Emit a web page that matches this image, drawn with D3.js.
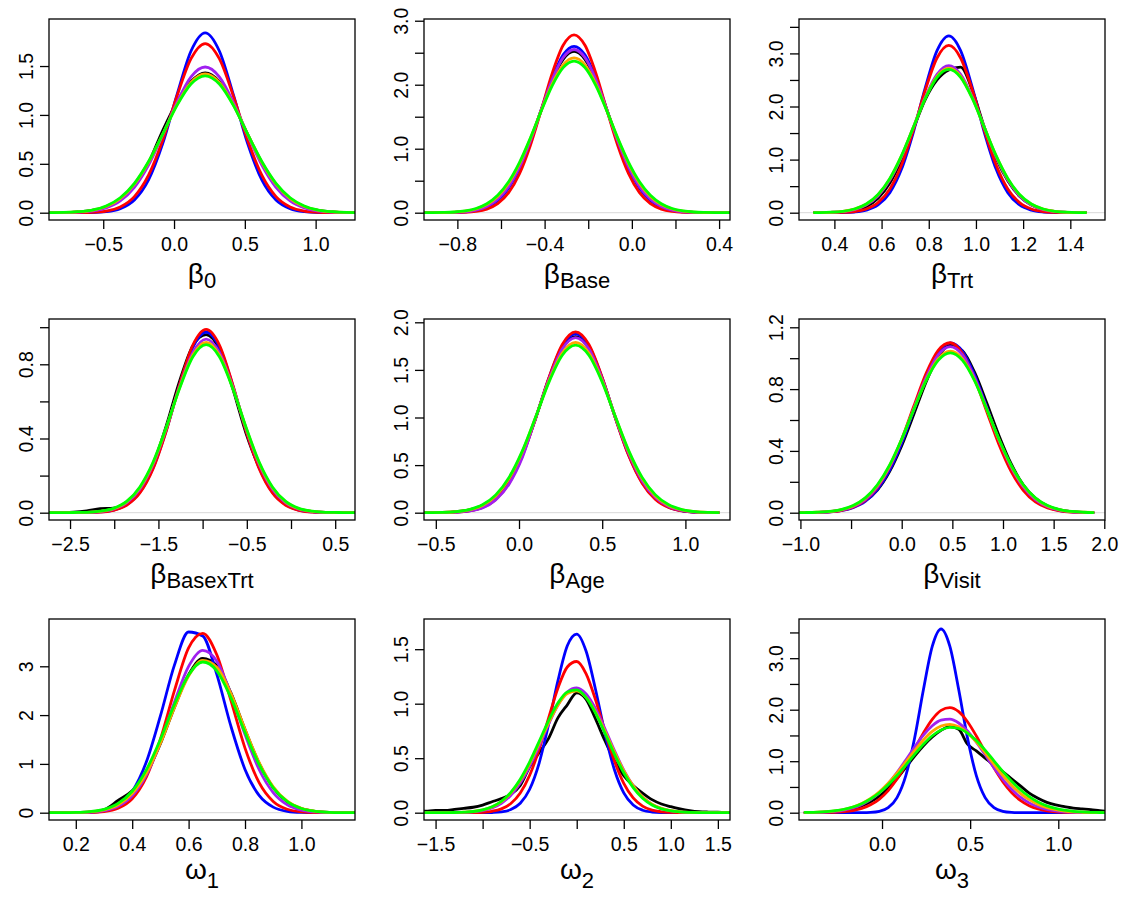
<!DOCTYPE html>
<html>
<head>
<meta charset="utf-8">
<script src="https://cdn.jsdelivr.net/npm/d3@7"></script>
<style>
  html, body { margin: 0; padding: 0; background: #ffffff; }
  svg { display: block; }
  text { font-family: "Liberation Sans", Arial, Helvetica, sans-serif; fill: #000; }
</style>
</head>
<body>
<div id="chart"></div>
<script>
// ---------------- DATA ----------------
const seriesNames = ["black", "blue", "red", "purple", "orange", "green"];
const seriesColors = ["#000000", "#0000FF", "#FF0000", "#A020F0", "#FFA500", "#00FF00"];

const panelSymbols = ["β", "β", "β", "β", "β", "β", "ω", "ω", "ω"];
const panelSubscripts = ["0", "Base", "Trt", "BasexTrt", "Age", "Visit", "1", "2", "3"];

// Panel 1: beta_0
const b0_x      = [-0.88,-0.78,-0.68,-0.58,-0.48,-0.38,-0.28,-0.18,-0.08,0.02,0.12,0.22,0.32,0.42,0.52,0.62,0.72,0.82,0.92,1.02,1.12,1.22,1.32];
const b0_black  = [0.001,0.002,0.008,0.023,0.061,0.142,0.287,0.512,0.84,1.13,1.341,1.43,1.341,1.106,0.802,0.512,0.287,0.142,0.061,0.023,0.008,0.002,0.001];
const b0_blue   = [0,0,0,0.002,0.010,0.040,0.129,0.335,0.706,1.202,1.654,1.84,1.654,1.202,0.706,0.335,0.129,0.040,0.010,0.002,0,0,0];
const b0_red    = [0,0,0.001,0.004,0.017,0.059,0.165,0.384,0.742,1.188,1.575,1.73,1.575,1.188,0.742,0.384,0.165,0.059,0.017,0.004,0.001,0,0];
const b0_purple = [0,0.001,0.005,0.017,0.049,0.121,0.260,0.488,0.795,1.127,1.390,1.49,1.390,1.127,0.795,0.488,0.260,0.121,0.049,0.017,0.005,0.001,0];
const b0_orange = [0.001,0.003,0.008,0.025,0.064,0.145,0.292,0.516,0.803,1.102,1.333,1.42,1.333,1.102,0.803,0.516,0.292,0.145,0.064,0.025,0.008,0.003,0.001];
const b0_green  = [0.001,0.003,0.010,0.027,0.069,0.153,0.300,0.523,0.804,1.095,1.316,1.40,1.316,1.095,0.804,0.523,0.300,0.153,0.069,0.027,0.010,0.003,0.001];

// Panel 2: beta_Base
const bBase_x      = [-0.965,-0.915,-0.865,-0.815,-0.765,-0.715,-0.665,-0.615,-0.565,-0.515,-0.465,-0.415,-0.365,-0.315,-0.265,-0.215,-0.165,-0.115,-0.065,-0.015,0.035,0.085,0.135,0.185,0.235,0.285,0.335,0.385,0.435,0.485];
const bBase_black  = [0,0.001,0.002,0.006,0.017,0.044,0.103,0.219,0.418,0.724,1.134,1.608,2.064,2.397,2.52,2.397,2.064,1.608,1.134,0.724,0.418,0.219,0.103,0.044,0.017,0.006,0.002,0.001,0,0];
const bBase_blue   = [0,0,0.001,0.004,0.013,0.035,0.087,0.193,0.384,0.689,1.111,1.612,2.102,2.466,2.60,2.466,2.102,1.612,1.111,0.689,0.384,0.193,0.087,0.035,0.013,0.004,0.001,0,0,0];
const bBase_red    = [0,0,0,0.002,0.006,0.020,0.057,0.142,0.313,0.609,1.053,1.610,2.181,2.616,2.78,2.616,2.181,1.610,1.053,0.609,0.313,0.142,0.057,0.020,0.006,0.002,0,0,0,0];
const bBase_purple = [0,0.001,0.002,0.005,0.015,0.041,0.097,0.209,0.405,0.711,1.126,1.610,2.079,2.423,2.55,2.423,2.079,1.610,1.126,0.711,0.405,0.209,0.097,0.041,0.015,0.005,0.002,0.001,0,0];
const bBase_orange = [0,0.001,0.003,0.009,0.024,0.058,0.127,0.254,0.461,0.766,1.159,1.599,2.013,2.311,2.42,2.311,2.013,1.599,1.159,0.766,0.461,0.254,0.127,0.058,0.024,0.009,0.003,0.001,0,0];
const bBase_green  = [0,0.001,0.004,0.011,0.029,0.066,0.141,0.273,0.484,0.787,1.170,1.593,1.987,2.268,2.37,2.268,1.987,1.593,1.170,0.787,0.484,0.273,0.141,0.066,0.029,0.011,0.004,0.001,0,0];

// Panel 3: beta_Trt
const bTrt_x      = [0.315,0.335,0.385,0.435,0.485,0.535,0.585,0.635,0.685,0.735,0.785,0.835,0.885,0.935,0.985,1.035,1.085,1.135,1.185,1.235,1.285,1.335,1.385,1.435,1.465];
const bTrt_black  = [0.001,0.001,0.004,0.012,0.040,0.110,0.27,0.56,1.00,1.58,2.13,2.50,2.69,2.74,2.30,1.62,1.03,0.60,0.31,0.145,0.06,0.022,0.007,0.002,0.001];
const bTrt_blue   = [0,0,0.001,0.003,0.013,0.047,0.145,0.377,0.826,1.520,2.350,3.052,3.33,3.052,2.350,1.520,0.826,0.377,0.145,0.047,0.013,0.003,0.001,0,0];
const bTrt_red    = [0,0,0.001,0.006,0.021,0.069,0.190,0.448,0.904,1.561,2.306,2.914,3.15,2.914,2.306,1.561,0.904,0.448,0.190,0.069,0.021,0.006,0.001,0,0];
const bTrt_purple = [0.001,0.002,0.007,0.021,0.058,0.144,0.316,0.613,1.056,1.610,2.176,2.608,2.77,2.608,2.176,1.610,1.056,0.613,0.316,0.144,0.058,0.021,0.007,0.002,0.001];
const bTrt_orange = [0.001,0.002,0.008,0.025,0.066,0.158,0.336,0.637,1.074,1.613,2.156,2.567,2.72,2.567,2.156,1.613,1.074,0.637,0.336,0.158,0.066,0.025,0.008,0.002,0.001];
const bTrt_green  = [0.002,0.003,0.009,0.026,0.069,0.163,0.343,0.645,1.079,1.612,2.147,2.550,2.70,2.550,2.147,1.612,1.079,0.645,0.343,0.163,0.069,0.026,0.009,0.003,0.002];

// Panel 4: beta_BasexTrt
const bBxT_x      = [-2.76,-2.61,-2.46,-2.31,-2.16,-2.01,-1.86,-1.71,-1.56,-1.41,-1.26,-1.11,-0.96,-0.81,-0.66,-0.51,-0.36,-0.21,-0.06,0.09,0.24,0.39,0.54,0.69,0.84];
const bBxT_black  = [0,0.001,0.003,0.010,0.022,0.025,0.05,0.12,0.26,0.47,0.71,0.90,0.96,0.88,0.67,0.43,0.245,0.117,0.046,0.016,0.006,0.002,0.001,0,0];
const bBxT_blue   = [0,0,0,0.001,0.004,0.014,0.043,0.111,0.243,0.446,0.688,0.893,0.974,0.893,0.688,0.446,0.243,0.111,0.043,0.014,0.004,0.001,0,0,0];
const bBxT_red    = [0,0,0,0.001,0.003,0.013,0.040,0.106,0.237,0.443,0.692,0.904,0.988,0.904,0.692,0.443,0.237,0.106,0.040,0.013,0.003,0.001,0,0,0];
const bBxT_purple = [0,0,0,0.001,0.006,0.019,0.053,0.127,0.260,0.456,0.680,0.864,0.936,0.864,0.680,0.456,0.260,0.127,0.053,0.019,0.006,0.001,0,0,0];
const bBxT_orange = [0,0,0.001,0.002,0.007,0.021,0.058,0.134,0.268,0.459,0.675,0.850,0.918,0.850,0.675,0.459,0.268,0.134,0.058,0.021,0.007,0.002,0.001,0,0];
const bBxT_green  = [0,0,0.001,0.002,0.008,0.023,0.061,0.139,0.273,0.462,0.671,0.841,0.906,0.841,0.671,0.462,0.273,0.139,0.061,0.023,0.008,0.002,0.001,0,0];

// Panel 5: beta_Age
const bAge_x      = [-0.62,-0.54,-0.46,-0.38,-0.30,-0.22,-0.14,-0.06,0.02,0.10,0.18,0.26,0.34,0.42,0.50,0.58,0.66,0.74,0.82,0.90,0.98,1.06,1.14,1.198];
const bAge_black  = [0,0.001,0.004,0.012,0.030,0.075,0.155,0.331,0.615,0.995,1.405,1.727,1.85,1.727,1.405,0.995,0.615,0.331,0.155,0.063,0.023,0.007,0.002,0.001];
const bAge_blue   = [0,0,0.002,0.006,0.020,0.058,0.146,0.318,0.603,0.992,1.415,1.751,1.88,1.751,1.415,0.992,0.603,0.318,0.146,0.058,0.020,0.006,0.002,0];
const bAge_red    = [0,0,0.001,0.005,0.018,0.054,0.139,0.310,0.595,0.989,1.421,1.767,1.90,1.767,1.421,0.989,0.595,0.310,0.139,0.054,0.018,0.005,0.001,0];
const bAge_purple = [0,0.001,0.002,0.006,0.018,0.05,0.135,0.30,0.58,0.997,1.401,1.719,1.84,1.719,1.401,0.997,0.619,0.335,0.159,0.065,0.024,0.007,0.002,0.001];
const bAge_orange = [0,0.001,0.003,0.010,0.029,0.076,0.176,0.358,0.639,1.003,1.384,1.678,1.79,1.678,1.384,1.003,0.639,0.358,0.176,0.076,0.029,0.010,0.003,0.001];
const bAge_green  = [0,0.001,0.003,0.011,0.033,0.083,0.187,0.371,0.650,1.005,1.372,1.654,1.76,1.654,1.372,1.005,0.650,0.371,0.187,0.083,0.033,0.011,0.003,0.001];

// Panel 6: beta_Visit
const bVis_x      = [-1.08,-0.96,-0.84,-0.72,-0.60,-0.48,-0.36,-0.24,-0.12,0.00,0.12,0.24,0.36,0.48,0.60,0.72,0.84,0.96,1.08,1.20,1.32,1.44,1.56,1.68,1.80,1.89];
const bVis_black  = [0,0.001,0.002,0.005,0.016,0.040,0.078,0.147,0.266,0.434,0.638,0.845,1.010,1.085,1.048,0.908,0.710,0.500,0.317,0.181,0.093,0.043,0.018,0.007,0.002,0.001];
const bVis_blue   = [0,0,0.002,0.005,0.013,0.033,0.073,0.150,0.274,0.450,0.663,0.876,1.036,1.099,1.045,0.891,0.682,0.467,0.287,0.158,0.078,0.035,0.014,0.005,0.002,0];
const bVis_red    = [0,0,0.002,0.005,0.014,0.036,0.080,0.162,0.293,0.475,0.690,0.900,1.051,1.100,1.031,0.867,0.654,0.441,0.267,0.145,0.070,0.031,0.012,0.004,0.001,0];
const bVis_purple = [0,0.001,0.002,0.006,0.016,0.039,0.085,0.167,0.295,0.470,0.675,0.874,1.021,1.075,1.021,0.874,0.675,0.470,0.295,0.167,0.085,0.039,0.016,0.006,0.002,0.001];
const bVis_orange = [0,0.001,0.003,0.007,0.019,0.044,0.093,0.176,0.304,0.474,0.670,0.858,0.995,1.045,0.995,0.858,0.670,0.474,0.304,0.176,0.093,0.044,0.019,0.007,0.003,0.001];
const bVis_green  = [0,0.001,0.003,0.008,0.020,0.046,0.096,0.181,0.308,0.477,0.669,0.853,0.986,1.035,0.986,0.853,0.669,0.477,0.308,0.181,0.096,0.046,0.020,0.008,0.003,0.001];

// Panel 7: omega_1
const w1_x      = [0.10,0.15,0.20,0.25,0.30,0.35,0.40,0.45,0.50,0.55,0.60,0.65,0.70,0.75,0.80,0.85,0.90,0.95,1.00,1.05,1.10,1.15,1.20];
const w1_black  = [0,0.001,0.004,0.016,0.06,0.25,0.45,0.80,1.412,2.163,2.829,3.160,3.014,2.454,1.706,1.014,0.514,0.223,0.082,0.026,0.007,0.002,0];
const w1_blue   = [0,0,0.001,0.008,0.039,0.145,0.434,1.037,1.982,3.029,3.703,3.621,2.833,1.772,0.887,0.355,0.114,0.029,0.006,0.001,0,0,0];
const w1_red    = [0,0,0.001,0.005,0.023,0.091,0.286,0.730,1.504,2.506,3.376,3.676,3.235,2.302,1.324,0.616,0.231,0.070,0.017,0.003,0.001,0,0];
const w1_purple = [0,0,0.002,0.011,0.041,0.130,0.345,0.770,1.442,2.268,2.997,3.327,3.103,2.432,1.601,0.885,0.412,0.161,0.053,0.015,0.003,0.001,0];
const w1_orange = [0,0.001,0.005,0.018,0.058,0.162,0.390,0.805,1.422,2.156,2.801,3.120,2.979,2.439,1.711,1.029,0.531,0.235,0.089,0.029,0.008,0.002,0];
const w1_green  = [0,0.001,0.006,0.023,0.070,0.190,0.439,0.876,1.503,2.220,2.822,3.088,2.908,2.357,1.645,0.988,0.510,0.227,0.087,0.029,0.008,0.002,0];

// Panel 8: omega_2
const w2_x      = [-1.7,-1.6,-1.5,-1.4,-1.3,-1.2,-1.1,-1.0,-0.9,-0.8,-0.7,-0.6,-0.5,-0.4,-0.3,-0.2,-0.1,0.0,0.1,0.2,0.3,0.4,0.5,0.6,0.7,0.8,0.9,1.0,1.1,1.2,1.3,1.4,1.5,1.6,1.7];
const w2_black  = [0.012,0.015,0.02,0.02,0.03,0.04,0.05,0.07,0.10,0.13,0.17,0.25,0.42,0.55,0.68,0.87,0.99,1.10,1.04,0.86,0.66,0.48,0.34,0.25,0.18,0.12,0.08,0.055,0.035,0.02,0.01,0.006,0.004,0.003,0.002];
const w2_blue   = [0,0,0,0,0,0,0,0,0.002,0.008,0.029,0.086,0.215,0.453,0.806,1.209,1.531,1.639,1.481,1.130,0.728,0.396,0.182,0.071,0.023,0.006,0.001,0,0,0,0,0,0,0,0];
const w2_red    = [0,0,0,0,0,0,0.001,0.004,0.013,0.035,0.084,0.180,0.343,0.579,0.864,1.142,1.337,1.387,1.274,1.036,0.747,0.476,0.269,0.135,0.060,0.023,0.008,0.003,0.001,0,0,0,0,0,0];
const w2_purple = [0,0,0,0,0.001,0.003,0.008,0.020,0.044,0.087,0.160,0.272,0.425,0.611,0.809,0.987,1.107,1.145,1.089,0.954,0.770,0.572,0.391,0.246,0.143,0.076,0.037,0.017,0.007,0.003,0.001,0,0,0,0];
const w2_orange = [0,0,0,0.001,0.002,0.005,0.011,0.025,0.053,0.102,0.181,0.297,0.451,0.634,0.822,0.986,1.092,1.118,1.058,0.925,0.748,0.558,0.385,0.246,0.145,0.079,0.040,0.018,0.008,0.003,0.001,0,0,0,0];
const w2_green  = [0,0,0,0.001,0.002,0.005,0.011,0.026,0.054,0.105,0.187,0.307,0.466,0.652,0.843,1.006,1.108,1.126,1.056,0.914,0.730,0.538,0.366,0.230,0.133,0.071,0.035,0.016,0.007,0.003,0.001,0,0,0,0];

// Panel 9: omega_3
const w3_x      = [-0.437,-0.415,-0.365,-0.315,-0.265,-0.215,-0.165,-0.115,-0.065,-0.015,0.035,0.085,0.135,0.185,0.235,0.285,0.335,0.385,0.435,0.485,0.535,0.585,0.635,0.685,0.735,0.785,0.835,0.885,0.935,0.985,1.035,1.085,1.135,1.185,1.235,1.285];
const w3_black  = [0.001,0.003,0.006,0.012,0.025,0.045,0.08,0.13,0.21,0.32,0.47,0.66,0.88,1.10,1.30,1.47,1.60,1.67,1.62,1.33,1.20,1.06,0.92,0.80,0.66,0.52,0.38,0.28,0.20,0.15,0.12,0.09,0.075,0.06,0.04,0.025];
const w3_blue   = [0,0,0,0,0,0,0,0.001,0.006,0.027,0.097,0.293,0.720,1.450,2.391,3.228,3.567,3.228,2.391,1.450,0.720,0.293,0.097,0.027,0.006,0.001,0,0,0,0,0,0,0,0,0,0];
const w3_red    = [0,0.001,0.001,0.004,0.009,0.020,0.042,0.083,0.153,0.265,0.430,0.654,0.930,1.241,1.549,1.813,1.987,2.039,1.961,1.766,1.490,1.177,0.871,0.604,0.392,0.239,0.136,0.073,0.036,0.017,0.007,0.003,0.001,0,0,0];
const w3_purple = [0.002,0.003,0.007,0.014,0.027,0.051,0.092,0.157,0.253,0.388,0.565,0.780,1.023,1.274,1.505,1.688,1.797,1.816,1.742,1.586,1.370,1.124,0.875,0.647,0.454,0.302,0.191,0.115,0.065,0.035,0.018,0.009,0.004,0.002,0.001,0];
const w3_orange = [0.004,0.005,0.010,0.020,0.037,0.065,0.110,0.178,0.275,0.405,0.571,0.767,0.985,1.207,1.413,1.579,1.684,1.716,1.669,1.550,1.374,1.163,0.940,0.726,0.535,0.376,0.253,0.162,0.099,0.058,0.032,0.017,0.009,0.004,0.002,0.001];
const w3_green  = [0.005,0.006,0.011,0.021,0.039,0.067,0.110,0.175,0.266,0.388,0.542,0.723,0.924,1.133,1.329,1.494,1.607,1.657,1.635,1.546,1.400,1.214,1.008,0.802,0.611,0.446,0.312,0.208,0.133,0.082,0.048,0.027,0.015,0.008,0.004,0.002];

// Tick values and labels ("" = tick without label)
const b0_xTicks = [-0.5, 0, 0.5, 1.0];           const b0_xLabels = ["−0.5", "0.0", "0.5", "1.0"];
const b0_yTicks = [0, 0.5, 1.0, 1.5];            const b0_yLabels = ["0.0", "0.5", "1.0", "1.5"];
const bBase_xTicks = [-0.8, -0.6, -0.4, -0.2, 0, 0.2, 0.4]; const bBase_xLabels = ["−0.8", "", "−0.4", "", "0.0", "", "0.4"];
const bBase_yTicks = [0, 0.5, 1, 1.5, 2, 2.5, 3];           const bBase_yLabels = ["0.0", "", "1.0", "", "2.0", "", "3.0"];
const bTrt_xTicks = [0.4, 0.6, 0.8, 1.0, 1.2, 1.4];         const bTrt_xLabels = ["0.4", "0.6", "0.8", "1.0", "1.2", "1.4"];
const bTrt_yTicks = [0, 0.5, 1, 1.5, 2, 2.5, 3, 3.5];       const bTrt_yLabels = ["0.0", "", "1.0", "", "2.0", "", "3.0", ""];
const bBxT_xTicks = [-2.5, -2, -1.5, -1, -0.5, 0, 0.5];     const bBxT_xLabels = ["−2.5", "", "−1.5", "", "−0.5", "", "0.5"];
const bBxT_yTicks = [0, 0.2, 0.4, 0.6, 0.8, 1.0];           const bBxT_yLabels = ["0.0", "", "0.4", "", "0.8", ""];
const bAge_xTicks = [-0.5, 0, 0.5, 1.0];                    const bAge_xLabels = ["−0.5", "0.0", "0.5", "1.0"];
const bAge_yTicks = [0, 0.5, 1, 1.5, 2];                    const bAge_yLabels = ["0.0", "0.5", "1.0", "1.5", "2.0"];
const bVis_xTicks = [-1, -0.5, 0, 0.5, 1, 1.5, 2];          const bVis_xLabels = ["−1.0", "", "0.0", "0.5", "1.0", "1.5", "2.0"];
const bVis_yTicks = [0, 0.2, 0.4, 0.6, 0.8, 1.0, 1.2];      const bVis_yLabels = ["0.0", "", "0.4", "", "0.8", "", "1.2"];
const w1_xTicks = [0.2, 0.4, 0.6, 0.8, 1.0];                const w1_xLabels = ["0.2", "0.4", "0.6", "0.8", "1.0"];
const w1_yTicks = [0, 1, 2, 3];                             const w1_yLabels = ["0", "1", "2", "3"];
const w2_xTicks = [-1.5, -1, -0.5, 0, 0.5, 1, 1.5];         const w2_xLabels = ["−1.5", "", "−0.5", "", "0.5", "1.0", "1.5"];
const w2_yTicks = [0, 0.5, 1, 1.5];                         const w2_yLabels = ["0.0", "0.5", "1.0", "1.5"];
const w3_xTicks = [0, 0.5, 1.0];                            const w3_xLabels = ["0.0", "0.5", "1.0"];
const w3_yTicks = [0, 0.5, 1, 1.5, 2, 2.5, 3, 3.5];         const w3_yLabels = ["0.0", "", "1.0", "", "2.0", "", "3.0", ""];

// Axis extents of each plot box (data units at box edges)
const xDomains = [[-0.883, 1.278], [-0.953, 0.450], [0.250, 1.547], [-2.738, 0.724], [-0.571, 1.268], [-1.014, 2.007], [0.105, 1.190], [-1.623, 1.629], [-0.471, 1.265]];
const yDomains = [[-0.0746, 1.981], [-0.114, 3.027], [-0.1375, 3.648], [-0.0394, 1.0442], [-0.0767, 2.0347], [-0.0472, 1.2537], [-0.1496, 3.969], [-0.067, 1.777], [-0.1417, 3.761]];

// ---------------- BUILD ----------------
const panels = [
  { x: b0_x, ys: [b0_black, b0_blue, b0_red, b0_purple, b0_orange, b0_green], xt: b0_xTicks, xl: b0_xLabels, yt: b0_yTicks, yl: b0_yLabels },
  { x: bBase_x, ys: [bBase_black, bBase_blue, bBase_red, bBase_purple, bBase_orange, bBase_green], xt: bBase_xTicks, xl: bBase_xLabels, yt: bBase_yTicks, yl: bBase_yLabels },
  { x: bTrt_x, ys: [bTrt_black, bTrt_blue, bTrt_red, bTrt_purple, bTrt_orange, bTrt_green], xt: bTrt_xTicks, xl: bTrt_xLabels, yt: bTrt_yTicks, yl: bTrt_yLabels },
  { x: bBxT_x, ys: [bBxT_black, bBxT_blue, bBxT_red, bBxT_purple, bBxT_orange, bBxT_green], xt: bBxT_xTicks, xl: bBxT_xLabels, yt: bBxT_yTicks, yl: bBxT_yLabels },
  { x: bAge_x, ys: [bAge_black, bAge_blue, bAge_red, bAge_purple, bAge_orange, bAge_green], xt: bAge_xTicks, xl: bAge_xLabels, yt: bAge_yTicks, yl: bAge_yLabels },
  { x: bVis_x, ys: [bVis_black, bVis_blue, bVis_red, bVis_purple, bVis_orange, bVis_green], xt: bVis_xTicks, xl: bVis_xLabels, yt: bVis_yTicks, yl: bVis_yLabels },
  { x: w1_x, ys: [w1_black, w1_blue, w1_red, w1_purple, w1_orange, w1_green], xt: w1_xTicks, xl: w1_xLabels, yt: w1_yTicks, yl: w1_yLabels },
  { x: w2_x, ys: [w2_black, w2_blue, w2_red, w2_purple, w2_orange, w2_green], xt: w2_xTicks, xl: w2_xLabels, yt: w2_yTicks, yl: w2_yLabels },
  { x: w3_x, ys: [w3_black, w3_blue, w3_red, w3_purple, w3_orange, w3_green], xt: w3_xTicks, xl: w3_xLabels, yt: w3_yTicks, yl: w3_yLabels }
];

const W = 1125, H = 900, PW = 375, PH = 300;
const box = { l: 49, r: 355, t: 19, b: 220 };
const tickFont = "19.5px";

const svg = d3.select("#chart").append("svg").attr("width", W).attr("height", H);
svg.append("rect").attr("width", W).attr("height", H).attr("fill", "#fff");

panels.forEach((p, i) => {
  const col = i % 3, row = Math.floor(i / 3);
  const g = svg.append("g").attr("transform", `translate(${col * PW},${row * PH})`);
  const x = d3.scaleLinear().domain(xDomains[i]).range([box.l, box.r]);
  const y = d3.scaleLinear().domain(yDomains[i]).range([box.b, box.t]);

  const clipId = "clip" + i;
  g.append("clipPath").attr("id", clipId)
    .append("rect").attr("x", box.l).attr("y", box.t)
    .attr("width", box.r - box.l).attr("height", box.b - box.t);

  const plot = g.append("g").attr("clip-path", `url(#${clipId})`);
  plot.append("line")
    .attr("x1", box.l).attr("x2", box.r)
    .attr("y1", y(0)).attr("y2", y(0))
    .attr("stroke", "#d8d8d8").attr("stroke-width", 1);

  p.ys.forEach((vals, s) => {
    const pts = p.x.map((xv, j) => [xv, vals[j]]);
    const line = d3.line().x(d => x(d[0])).y(d => y(d[1])).curve(d3.curveMonotoneX);
    plot.append("path").datum(pts)
      .attr("d", line)
      .attr("fill", "none")
      .attr("stroke", seriesColors[s])
      .attr("stroke-width", 2.8)
      .attr("stroke-linejoin", "round")
      .attr("stroke-linecap", "round");
  });

  // box
  g.append("rect").attr("x", box.l).attr("y", box.t)
    .attr("width", box.r - box.l).attr("height", box.b - box.t)
    .attr("fill", "none").attr("stroke", "#000").attr("stroke-width", 1.3);

  // x axis
  const xa = g.append("g").attr("transform", `translate(0,${box.b})`)
    .call(d3.axisBottom(x).tickValues(p.xt).tickSize(9).tickSizeOuter(0)
      .tickFormat((d, j) => p.xl[j]));
  xa.select(".domain").remove();
  xa.selectAll(".tick line").attr("stroke", "#000").attr("stroke-width", 1.3);
  xa.selectAll(".tick text").attr("y", 31).attr("dy", 0)
    .style("font-size", tickFont).style("font-family", '"Liberation Sans", Arial, sans-serif').attr("fill", "#000");

  // y axis
  const ya = g.append("g").attr("transform", `translate(${box.l},0)`)
    .call(d3.axisLeft(y).tickValues(p.yt).tickSize(9).tickSizeOuter(0)
      .tickFormat((d, j) => p.yl[j]));
  ya.select(".domain").remove();
  ya.selectAll(".tick line").attr("stroke", "#000").attr("stroke-width", 1.3);
  ya.selectAll(".tick text")
    .attr("transform", "rotate(-90)")
    .attr("x", 0).attr("y", -16).attr("dy", 0)
    .attr("text-anchor", "middle")
    .style("font-size", tickFont).style("font-family", '"Liberation Sans", Arial, sans-serif').attr("fill", "#000");

  // axis title
  const isOmega = panelSymbols[i] === "ω";
  const t = g.append("text")
    .attr("x", (box.l + box.r) / 2)
    .attr("y", isOmega ? 279 : 283)
    .attr("text-anchor", "middle");
  t.append("tspan").text(panelSymbols[i]).style("font-size", "28px");
  t.append("tspan").text(panelSubscripts[i]).style("font-size", "22px")
    .attr("dy", isOmega ? 9 : 5);
});
</script>
</body>
</html>
